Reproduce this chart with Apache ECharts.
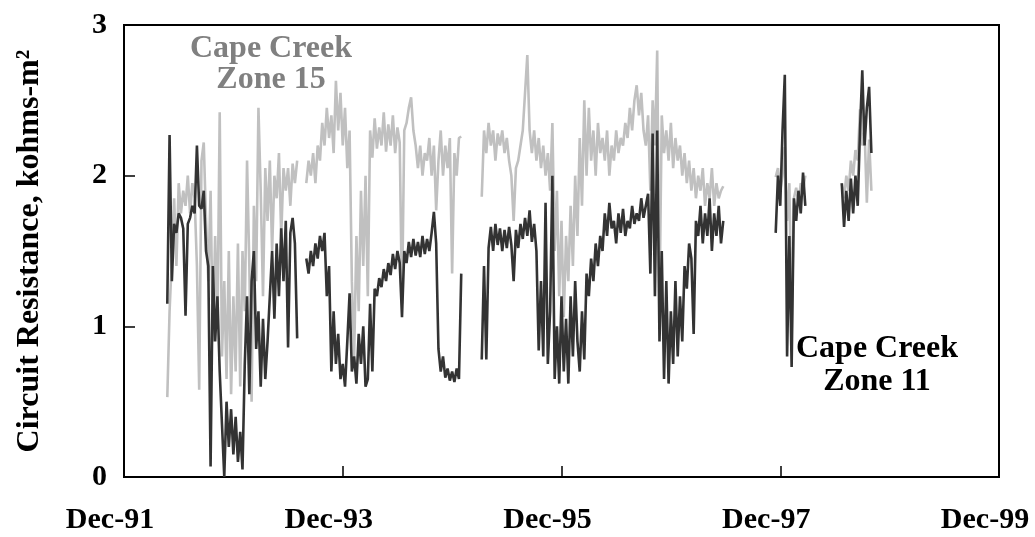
<!DOCTYPE html>
<html>
<head>
<meta charset="utf-8">
<script src="https://cdn.jsdelivr.net/npm/echarts@6/dist/echarts.min.js"></script>
<style>
  html, body { margin: 0; padding: 0; background: #fff; }
  #chart { width: 1035px; height: 537px; }
</style>
</head>
<body>
<div id="chart"></div>
<script>
// months after Dec-91 where each recorded stretch begins; readings are weekly
const startMonths = [4.75, 20.0, 39.25, 71.5, 78.75];
const step = 0.25;
const tickLabels = ["Dec-91", "Dec-93", "Dec-95", "Dec-97", "Dec-99"];

// Cape Creek Zone 11 (dark)
const zone11 = [
  [1.15, 2.27, 1.3, 1.68, 1.62, 1.75, 1.72, 1.65, 1.07, 1.68,
   1.72, 1.8, 1.75, 2.2, 1.8, 1.78, 1.9, 1.5, 1.4, 0.07,
   1.4, 0.9, 1.2, 0.7, 0.35, 0.0, 0.5, 0.2, 0.45, 0.15,
   0.4, 0.1, 0.3, 0.05, 0.75, 1.2, 0.55, 1.3, 1.5, 0.85,
   1.1, 0.6, 1.05, 0.65, 0.9, 1.2, 1.5, 1.05, 1.55, 1.2,
   1.65, 1.3, 1.7, 0.86, 1.62, 1.72, 1.55, 0.92],
  [1.45, 1.35, 1.5, 1.4, 1.55, 1.45, 1.6, 1.5, 1.62, 1.2,
   1.4, 0.7, 1.1, 0.75, 0.95, 0.65, 0.75, 0.6, 0.9, 1.22,
   0.7, 0.8, 0.62, 0.95, 0.75, 1.0, 0.6, 0.65, 1.15, 0.7,
   1.25, 1.2, 1.32, 1.26, 1.38, 1.3, 1.42, 1.34, 1.48, 1.38,
   1.5, 1.42, 1.06, 1.5, 1.42, 1.56, 1.46, 1.58, 1.47, 1.56,
   1.46, 1.6, 1.48, 1.58, 1.5, 1.62, 1.76, 1.55, 0.85, 0.7,
   0.8, 0.66, 0.72, 0.64, 0.7, 0.63, 0.72, 0.65, 1.35],
  [0.78, 1.4, 0.78, 1.52, 1.66, 1.5, 1.68, 1.54, 1.65, 1.5,
   1.64, 1.52, 1.66, 1.54, 1.3, 1.64, 1.52, 1.68, 1.58, 1.72,
   1.6, 1.77, 1.56, 1.68, 1.5, 0.84, 1.3, 0.8, 1.82, 0.75,
   1.1, 2.0, 0.65, 1.0, 0.62, 1.2, 0.7, 1.05, 0.62, 1.2,
   0.8, 1.3, 0.9, 0.7, 1.1, 0.78, 1.35, 1.2, 1.45, 1.3,
   1.55, 1.4, 1.6, 1.5, 1.75, 1.6, 1.82, 1.65, 1.7, 1.55,
   1.75, 1.62, 1.78, 1.6, 1.7, 1.65, 1.8, 1.68, 1.75, 1.7,
   1.85, 1.72, 1.8, 1.88, 1.35, 2.28, 1.2, 2.3, 0.9, 1.5,
   0.65, 1.3, 0.62, 1.1, 0.75, 1.3, 0.8, 1.2, 0.9, 1.4,
   1.25, 1.55, 1.45, 0.95, 1.7, 1.6, 1.8, 1.55, 1.75, 1.6,
   1.85, 1.5, 1.75, 1.6, 1.8, 1.55, 1.7],
  [1.62, 2.0, 1.8, 2.3, 2.67, 0.8, 1.6, 0.73, 1.85, 1.7, 1.9, 1.75, 2.02, 1.8],
  [1.95, 1.66, 1.9, 1.7, 1.98, 1.75, 2.0, 1.8, 2.3, 2.7, 2.2, 2.45, 2.59, 2.15]
];

// Cape Creek Zone 15 (light grey)
const zone15 = [
  [0.53, 1.1, 1.45, 1.85, 1.4, 1.95, 1.75, 1.9, 1.8, 2.0,
   1.75, 1.95, 1.85, 1.4, 0.58, 2.1, 2.22, 1.7, 1.3, 1.9,
   0.9, 1.6, 1.0, 2.42, 0.8, 1.3, 0.65, 1.5, 0.55, 1.2,
   0.7, 1.55, 0.6, 1.5, 1.1, 2.1, 1.4, 0.5, 1.8, 1.3,
   2.45, 1.9, 1.2, 2.05, 1.7, 2.1, 1.5, 2.0, 1.85, 2.15,
   1.6, 2.05, 1.9, 2.05, 1.8, 2.08, 1.95, 2.1],
  [1.95, 2.1, 2.0, 2.15, 1.95, 2.2, 2.1, 2.35, 2.2, 2.45,
   2.25, 2.4, 2.15, 2.63, 2.3, 2.55, 2.2, 2.45, 2.05, 2.3,
   1.3, 0.8, 1.6, 1.1, 1.9, 1.4, 2.0, 1.2, 2.3, 2.12,
   2.38, 2.18, 2.32, 2.2, 2.42, 2.16, 2.34, 2.2, 2.4, 2.15,
   2.32, 2.22, 1.15, 2.3, 2.35, 2.45, 2.52, 2.3, 2.2, 2.05,
   2.2, 2.0, 2.15, 2.1, 2.25, 2.0, 2.2, 1.77, 2.1, 2.3,
   2.0, 2.2, 2.05, 2.25, 1.35, 2.15, 2.0, 2.25, 2.26],
  [1.86, 2.3, 2.15, 2.35, 2.2, 2.3, 2.1, 2.28, 2.2, 2.3,
   2.15, 2.25, 2.1, 2.0, 1.7, 2.05, 2.1, 2.2, 2.3, 2.55,
   2.8, 2.3, 2.15, 2.3, 2.1, 2.25, 2.05, 2.2, 2.0, 2.15,
   1.9, 2.35, 1.5, 1.9, 1.2, 1.7, 1.06, 1.6, 1.3, 1.8,
   1.4, 2.0, 1.6, 2.25, 1.8, 2.5, 2.0, 2.45, 2.1, 2.3,
   2.0, 2.35, 2.15, 2.25, 2.1, 2.3, 2.0, 2.2, 2.1, 2.3,
   2.15, 2.25, 2.2, 2.35, 2.25, 2.45, 2.3, 2.5, 2.6, 2.4,
   2.55, 2.3, 2.2, 2.4, 1.9, 2.5, 2.2, 2.83, 1.15, 2.4,
   2.15, 2.3, 2.1, 2.35, 2.05, 2.25, 2.1, 2.2, 2.0, 2.15,
   1.95, 2.1, 1.9, 2.05, 1.85, 2.0, 1.9, 2.05, 1.8, 1.95,
   1.85, 2.05, 1.8, 1.95, 1.85, 1.9, 1.93],
  [1.99, 2.05, 1.9, 2.0, 2.19, 1.7, 1.95, 0.95, 1.85, 1.92, 1.82, 1.95, 1.9, 2.0],
  [1.95, 1.85, 2.0, 1.9, 2.1, 2.0, 2.17, 2.1, 2.44, 2.2, 2.3, 1.82, 2.24, 1.9]
];

// turn the stretches into [month, value] pairs, with a break between them
function build(segs) {
  const out = [];
  segs.forEach((vals, s) => {
    if (s > 0) out.push([startMonths[s] - step, null]);
    vals.forEach((v, i) => out.push([startMonths[s] + i * step, v]));
  });
  return out;
}

const font = '"Liberation Serif", "Times New Roman", serif';
const chart = echarts.init(document.getElementById("chart"));

chart.setOption({
  animation: false,
  backgroundColor: "#fff",
  grid: {
    left: 124, right: 36, top: 25, bottom: 60,
    outerBoundsMode: "none",
    show: true, borderColor: "#000", borderWidth: 2
  },
  xAxis: {
    type: "value",
    min: 0, max: 96, interval: 24,
    axisLine: { show: true, lineStyle: { color: "#000", width: 2 } },
    axisTick: { show: true, inside: true, length: 11, lineStyle: { color: "#000", width: 1.5 } },
    splitLine: { show: false },
    axisLabel: {
      formatter: (v) => tickLabels[Math.round(v / 24)],
      fontFamily: font, fontWeight: "bold", fontSize: 30, color: "#000",
      margin: 28, padding: [0, 28, 0, 0]
    }
  },
  yAxis: {
    type: "value",
    min: 0, max: 3, interval: 1,
    name: "Circuit Resistance, kohms-m\u00b2",
    nameLocation: "middle",
    nameGap: 78,
    nameTextStyle: { fontFamily: font, fontWeight: "bold", fontSize: 32, color: "#000" },
    axisLine: { show: true, lineStyle: { color: "#000", width: 2 } },
    axisTick: { show: true, inside: true, length: 11, lineStyle: { color: "#000", width: 1.5 } },
    splitLine: { show: false },
    axisLabel: {
      fontFamily: font, fontWeight: "bold", fontSize: 30, color: "#000", margin: 17
    }
  },
  series: [
    {
      name: "Cape Creek Zone 15",
      type: "line",
      data: build(zone15),
      showSymbol: false,
      connectNulls: false,
      lineStyle: { color: "#c0c0c0", width: 2.6 }
    },
    {
      name: "Cape Creek Zone 11",
      type: "line",
      data: build(zone11),
      showSymbol: false,
      connectNulls: false,
      lineStyle: { color: "#333333", width: 2.6 }
    }
  ],
  graphic: [
    {
      type: "text", x: 271, y: 33, z: 100,
      style: {
        text: "Cape Creek\nZone 15", fill: "#808080",
        font: 'bold 32px "Liberation Serif", serif',
        textAlign: "center", lineHeight: 31
      }
    },
    {
      type: "text", x: 877, y: 332, z: 100,
      style: {
        text: "Cape Creek\nZone 11", fill: "#000",
        font: 'bold 32px "Liberation Serif", serif',
        textAlign: "center", lineHeight: 33
      }
    }
  ]
});
</script>
</body>
</html>
